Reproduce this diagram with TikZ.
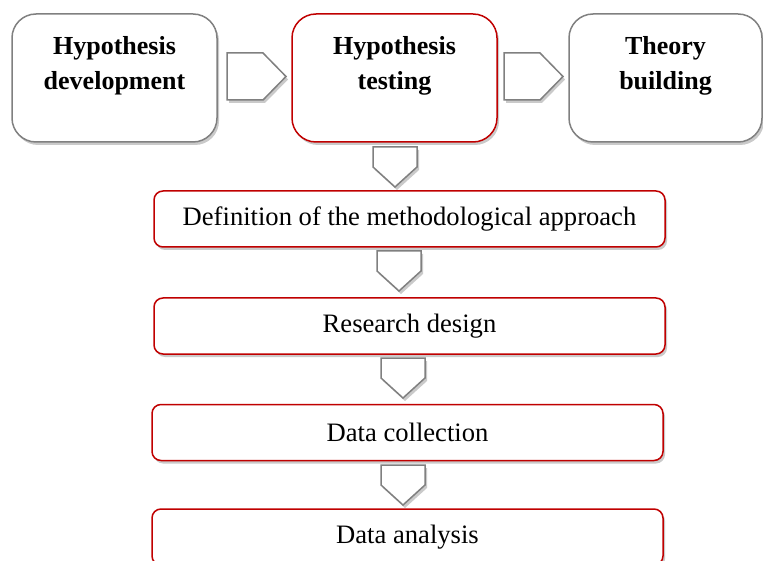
\documentclass[tikz,border=0pt]{standalone}
\usepackage{fontspec}
\setmainfont{Liberation Serif}
\usetikzlibrary{shadows}
\definecolor{boxred}{RGB}{192,0,0}
\tikzset{
  myshadow/.style={drop shadow={shadow xshift=2pt,shadow yshift=-3pt,opacity=0.35,fill=black!60}},
  topbox/.style={draw=gray,line width=1.5pt,fill=white,rounded corners=24pt,
    minimum width=205pt,minimum height=128pt,inner sep=0pt,myshadow},
  toptext/.style={anchor=north,inner sep=0pt,align=center,
    font=\fontsize{26}{35}\selectfont\bfseries},
  stepbox/.style={draw=boxred,line width=1.5pt,fill=white,rounded corners=9pt,
    minimum width=511pt,minimum height=56pt,inner sep=0pt,myshadow,
    font=\fontsize{26.6}{31}\selectfont},
  blockarr/.style={draw=gray,line width=1.5pt,fill=white,line join=miter,myshadow}
}
\begin{document}
\begin{tikzpicture}[x=1pt,y=-1pt]
\useasboundingbox (0,0) rectangle (763,561);
\clip (0,0) rectangle (763,561);
% top row
\node[topbox] (dev) at (114.5,78) {};
\node[topbox,draw=boxred] (test) at (394.5,78) {};
\node[topbox,minimum width=193pt] (theory) at (665.5,78) {};
\node[toptext] (devtext) at ([yshift=-23pt]dev.north) {Hypothesis\\development};
\node[toptext] (testtext) at ([yshift=-23pt]test.north) {Hypothesis\\testing};
\node[toptext] (theorytext) at ([yshift=-23pt]theory.north) {Theory\\building};
% arrows to the right
\coordinate (r1) at (227,53);
\coordinate (r2) at (504,53);
\foreach \p in {r1,r2}
  \draw[blockarr] (\p) -- ++(36,0) -- ++(23,23.5) -- ++(-23,23.5) -- ++(-36,0) -- cycle;

% steps
\node[stepbox] (method) at (409.5,219) {Definition of the methodological approach};
\node[stepbox] (design) at (409.5,326) {Research design};
\node[stepbox] (collect) at (407.5,432.5) {Data collection};
\node[stepbox] (analysis) at (407.5,537) {Data analysis};
% arrows down
\coordinate (d1) at (373,147);
\coordinate (d2) at (377,251);
\coordinate (d3) at (381,358);
\coordinate (d4) at (381,465);
\foreach \p in {d1,d2,d3,d4}
  \draw[blockarr] (\p) -- ++(44,0) -- ++(0,20) -- ++(-22,20) -- ++(-22,-20) -- cycle;
\end{tikzpicture}
\end{document}
